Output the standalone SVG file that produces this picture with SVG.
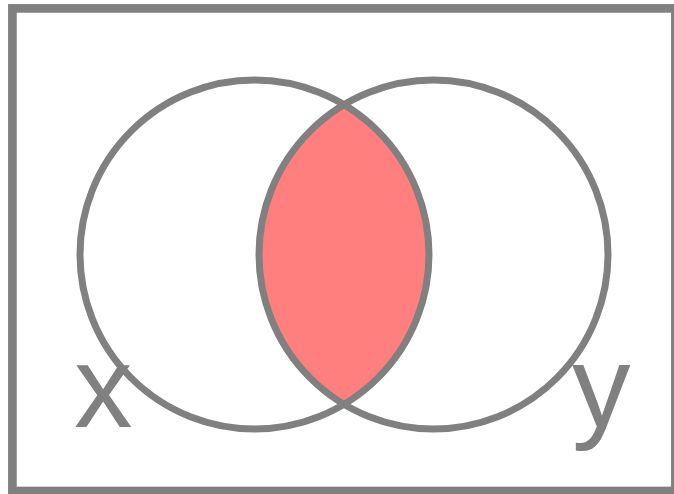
<svg xmlns="http://www.w3.org/2000/svg" width="674" height="494" viewBox="0 0 674 494">
<style>
.set{fill:none;stroke:#808080;stroke-width:7}
.lbl{font-family:"Liberation Sans",Arial,sans-serif;font-size:117px;fill:#808080}
</style>
<rect x="0" y="0" width="674" height="494" fill="#ffffff"/>
<rect id="frame" x="12.4" y="8.4" width="663" height="482.6" fill="none" stroke="#808080" stroke-width="8.7"/>
<g id="intersection">
<path d="M344,104.7 A174.5,174.5 0 0,1 344,404.3 A174.5,174.5 0 0,1 344,104.7 Z" fill="#ff7f7f"/>
</g>
<g id="set-x">
<circle class="set" cx="254.5" cy="254.5" r="174.5"/>
<text class="lbl" x="74" y="427">x</text>
</g>
<g id="set-y">
<circle class="set" cx="433.5" cy="254.5" r="174.5"/>
<text class="lbl" x="572" y="427">y</text>
</g>
<g id="connectors"/>
</svg>
